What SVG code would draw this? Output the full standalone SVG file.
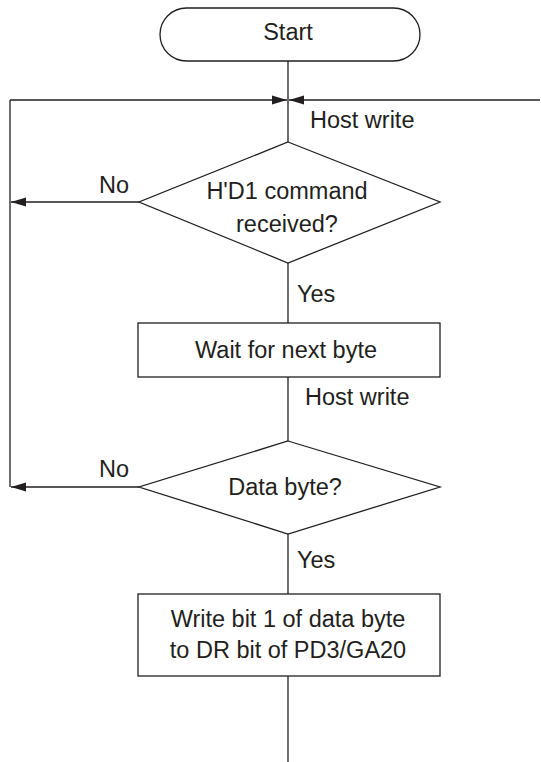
<svg xmlns="http://www.w3.org/2000/svg" width="541" height="762" viewBox="0 0 541 762">
<style>
.s{fill:#fff;stroke:#231f20;stroke-width:1.3}
.l{fill:none;stroke:#231f20;stroke-width:1.3}
text{font-family:"Liberation Sans",Arial,sans-serif;font-size:23.5px;fill:#231f20}
.c{text-anchor:middle}
</style>
<defs>
<marker id="a" viewBox="0 0 15 10" refX="15" refY="5" markerWidth="15" markerHeight="10" markerUnits="userSpaceOnUse" orient="auto">
<path d="M0,0.5 L15,5 L0,9.5 Z" fill="#231f20"/>
</marker>
</defs>
<g id="connectors">
<line class="l" x1="288" y1="61" x2="288" y2="142"/>
<line class="l" x1="10" y1="487" x2="10" y2="100"/>
<line class="l" x1="10" y1="100" x2="287" y2="100" marker-end="url(#a)"/>
<line class="l" x1="540" y1="100" x2="289" y2="100" marker-end="url(#a)"/>
<line class="l" x1="139" y1="202" x2="11" y2="202" marker-end="url(#a)"/>
<line class="l" x1="139" y1="487" x2="11" y2="487" marker-end="url(#a)"/>
<line class="l" x1="288" y1="263" x2="288" y2="323"/>
<line class="l" x1="288" y1="377" x2="288" y2="441"/>
<line class="l" x1="288" y1="534" x2="288" y2="594"/>
<line class="l" x1="288" y1="676" x2="288" y2="762"/>
<text x="310" y="128">Host write</text>
<text x="114" y="193" class="c">No</text>
<text x="297" y="302">Yes</text>
<text x="305" y="405">Host write</text>
<text x="114" y="477" class="c">No</text>
<text x="297" y="568">Yes</text>
</g>
<g id="start">
<rect class="s" x="160" y="8" width="260" height="53" rx="26.5"/>
<text x="288" y="40" class="c">Start</text>
</g>
<g id="decision1">
<polygon class="s" points="288,142 440,202 288,263 139,202"/>
<text x="287" y="199" class="c">H'D1 command</text>
<text x="287" y="232" class="c">received?</text>
</g>
<g id="wait">
<rect class="s" x="138" y="323" width="302" height="54"/>
<text x="286" y="358" class="c">Wait for next byte</text>
</g>
<g id="decision2">
<polygon class="s" points="288,441 440,487 288,534 139,487"/>
<text x="285" y="495" class="c">Data byte?</text>
</g>
<g id="write">
<rect class="s" x="138" y="594" width="302" height="82"/>
<text x="288" y="627" class="c">Write bit 1 of data byte</text>
<text x="288" y="658" class="c">to DR bit of PD3/GA20</text>
</g>
</svg>
